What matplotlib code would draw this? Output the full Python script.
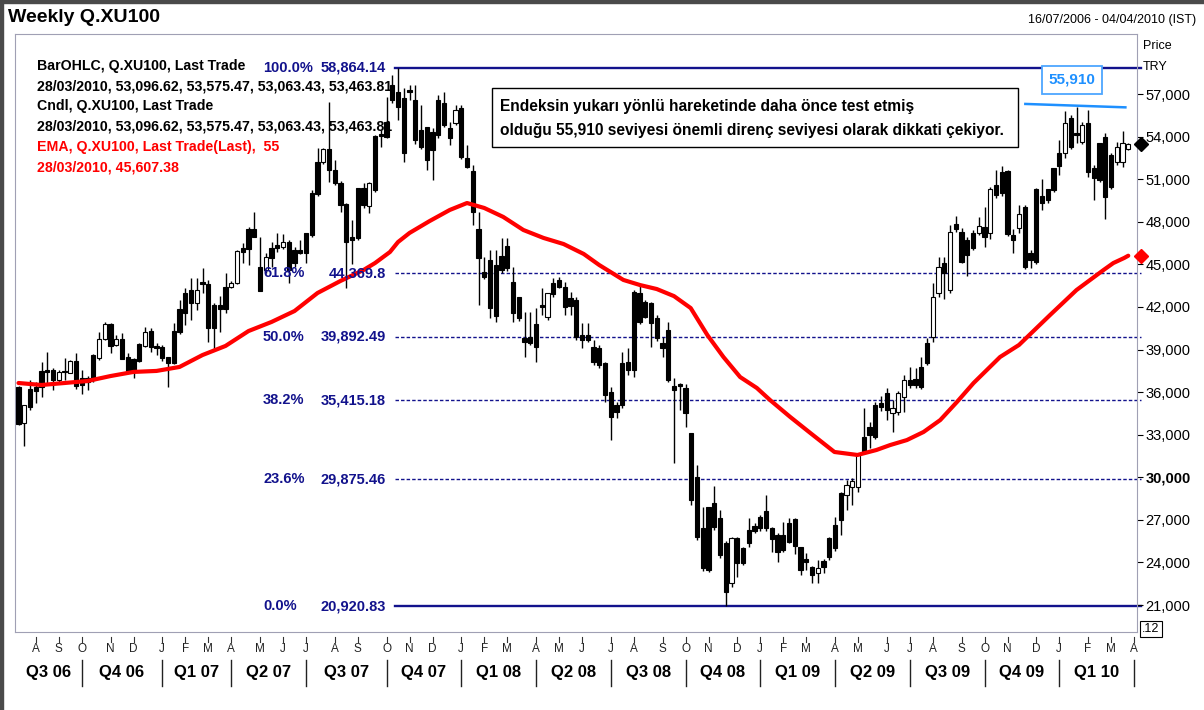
import matplotlib
matplotlib.use('Agg')
import matplotlib.pyplot as plt
import matplotlib.transforms as mtransforms
from matplotlib.patches import Rectangle
import pandas as pd

plt.rcParams['font.family'] = ['Liberation Sans', 'DejaVu Sans']

# weekly OHLC, one bar per week starting 16/07/2006
opens = [
    36335, 33800, 36200, 36335, 37490, 37560, 37560, 36850, 37510, 37320,
    38210, 36970, 36970, 38610, 38380, 39720, 40800, 39320, 39720, 38500,
    38310, 39390, 39270, 40330, 39250, 39200, 38500, 40330, 41850, 43000,
    43190, 42260, 43730, 43620, 42140, 42140, 43430, 43430, 43710, 46130,
    47470, 47470, 44840, 44600, 46130, 46360, 46250, 46600, 46010, 46010,
    47190, 50050, 52230, 52230, 53100, 51650, 50760, 49250, 46900, 50360,
    50360, 49110, 54040, 54180, 55050, 57630, 57160, 56700, 57280, 56580,
    54460, 54700, 54350, 56580, 56340, 54580, 54930, 55990, 52470, 51580,
    47490, 44490, 45310, 44960, 45610, 46320, 43780, 42720, 39840, 39910,
    40770, 42140, 41320, 43660, 43900, 43430, 42610, 42490, 40020, 40020,
    39200, 39090, 38030, 36030, 35090, 38030, 38140, 43080, 42960, 42370,
    42250, 41200, 39440, 40380, 36430, 36550, 36270, 33100, 30040, 26400,
    27930, 28170, 27110, 25350, 22530, 25700, 25000, 26290, 26570, 27230,
    27650, 26400, 25930, 25930, 26800, 27040, 25060, 24220, 23700, 23280,
    24130, 25700, 26640, 28870, 28750, 29340, 29340, 32860, 33520, 35090,
    35210, 35920, 34510, 34620, 35680, 36850, 36900, 37790, 39440, 39860,
    42960, 45070, 43190, 47840, 47300, 46720, 47230, 47230, 47610, 47230,
    50590, 51530, 51600, 47070, 47540, 49060, 45780, 50290, 49820, 50290,
    51760, 52870, 52820, 55290, 54280, 53640, 54930, 51760, 53530, 54000,
    52700, 52230, 52230, 53096.62]
highs = [
    36450, 35100, 36850, 36730, 38140, 38850, 37670, 37560, 38380, 38260,
    38730, 37560, 37130, 38700, 40260, 40960, 40850, 40020, 40140, 38780,
    38400, 39480, 40560, 40490, 39480, 39300, 38500, 40850, 42490, 43300,
    44020, 44020, 44720, 43900, 42250, 42770, 44370, 43800, 46010, 46480,
    47660, 48710, 46950, 45800, 46600, 47190, 47140, 46700, 46200, 46720,
    47190, 50240, 53170, 53170, 56460, 52350, 50900, 49300, 48130, 50400,
    50710, 50800, 54100, 54460, 56810, 58340, 58864.14, 57400, 57630, 57630,
    56230, 54700, 54580, 56930, 57160, 55050, 56230, 56230, 53410, 52000,
    48710, 45540, 46010, 46010, 46830, 46880, 44840, 42720, 41670, 41670,
    41900, 43310, 42960, 44020, 44130, 43780, 43080, 42720, 40850, 40850,
    39670, 39300, 38100, 36380, 35330, 38850, 39080, 43190, 43540, 42490,
    42370, 41400, 39910, 40960, 36970, 36620, 36570, 33100, 30870, 27880,
    27930, 29390, 27700, 25500, 25820, 25820, 25100, 27110, 26760, 27340,
    28750, 26520, 26050, 26870, 27110, 27110, 25100, 24640, 23750, 24170,
    24220, 25820, 27220, 28980, 29810, 29930, 31690, 34860, 33920, 35330,
    35730, 36270, 35450, 36100, 37210, 37790, 37680, 38500, 39790, 43660,
    45540, 45540, 47770, 48410, 47540, 46950, 47420, 48310, 49060, 50470,
    51650, 51930, 51650, 47470, 49180, 49180, 46010, 50360, 50990, 50290,
    51760, 53760, 55830, 55520, 56110, 55050, 55870, 52000, 53570, 54230,
    52820, 53640, 54420, 53575.47]
lows = [
    33700, 32230, 34740, 35210, 35680, 36620, 36150, 36620, 36850, 37320,
    36200, 35870, 36150, 36700, 38260, 39650, 38730, 39270, 38310, 37440,
    36970, 38100, 39200, 38850, 38610, 38210, 36340, 38000, 40100, 40730,
    41080, 41790, 42960, 39560, 38970, 40260, 41550, 43300, 43600, 45070,
    44960, 46900, 43100, 44400, 44840, 45900, 46100, 43660, 44800, 45700,
    45070, 46900, 49800, 52100, 50830, 50600, 48710, 43310, 45030, 46700,
    49000, 48590, 50100, 53290, 53900, 56400, 55170, 52190, 56580, 53500,
    53100, 51650, 50940, 53900, 54700, 53410, 54800, 52400, 51800, 47770,
    42140, 44000, 41200, 40960, 44370, 44500, 40920, 41010, 38500, 39300,
    38150, 41430, 41080, 42700, 43300, 41430, 41430, 39700, 39090, 39500,
    37900, 37680, 35330, 32630, 34150, 34900, 37210, 37090, 40800, 41200,
    39200, 39600, 38500, 36700, 30980, 34740, 33570, 28050, 25600, 23400,
    23300, 26300, 24300, 20920.83, 22300, 23000, 23800, 25110, 26100, 26200,
    26200, 24760, 24050, 24700, 25400, 24600, 23120, 23470, 22530, 22530,
    23230, 24200, 24800, 25930, 27690, 28050, 28990, 31700, 32040, 32700,
    34700, 34040, 33220, 34400, 34620, 36300, 36300, 36200, 37900, 39550,
    42700, 42540, 43000, 47300, 45070, 44180, 46000, 47100, 46250, 46760,
    49700, 49800, 47000, 45820, 47190, 44700, 44720, 45000, 48830, 49300,
    50100, 51300, 52470, 53100, 53530, 53500, 51130, 49530, 50800, 48170,
    50300, 52000, 51880, 53063.43]
closes = [
    33760, 35070, 34970, 36100, 36335, 37390, 36850, 37440, 37420, 38190,
    36430, 36500, 36740, 36850, 39720, 40800, 39270, 39740, 38350, 37490,
    37490, 38210, 40260, 39200, 39080, 38380, 38070, 38070, 40210, 41550,
    42300, 43190, 43620, 40490, 40490, 41830, 41830, 43710, 45970, 45890,
    46060, 46900, 43150, 45500, 45430, 46130, 46600, 44600, 45070, 45780,
    45780, 47070, 49960, 53100, 51650, 50760, 49180, 46600, 46720, 46830,
    49180, 50710, 50240, 54040, 54000, 56580, 56110, 52820, 57160, 53760,
    53290, 52350, 53060, 54110, 54820, 53880, 55870, 52590, 51880, 48710,
    45470, 44130, 41900, 41390, 44600, 44720, 41550, 41200, 39550, 39440,
    39200, 42020, 42960, 42890, 43430, 42020, 42090, 39910, 39670, 39670,
    38150, 37910, 35800, 34270, 34620, 35090, 37560, 37560, 40960, 41310,
    40840, 39790, 39080, 36850, 36150, 36430, 34510, 28400, 25820, 23590,
    23470, 26520, 24530, 21940, 25700, 23990, 23990, 25350, 26240, 26400,
    26400, 25630, 24760, 24880, 25460, 25160, 23470, 24050, 23120, 23590,
    23700, 24360, 24990, 26990, 29450, 29760, 31570, 31880, 32980, 32860,
    34930, 34740, 34860, 35920, 36850, 36500, 36500, 36380, 38030, 42680,
    44840, 44370, 47300, 47470, 45190, 45660, 46130, 47700, 46950, 50280,
    49890, 50000, 47140, 46720, 48550, 44840, 45310, 45190, 49350, 49530,
    50240, 51930, 54930, 53290, 54110, 54820, 51530, 51060, 50940, 49770,
    50470, 53290, 53570, 53463.81]

# EMA(55)
ema_week = [0, 4, 8, 12, 16, 20, 24, 28, 32, 36,
            40, 44, 48, 52, 56, 60, 62, 64.6, 66, 68,
            71.5, 75, 78, 81, 84.3, 87.8, 91.3, 94.8, 98.3, 101,
            105.2, 108.1, 111, 114, 116.9, 119.8, 122.6, 125.5, 128.4, 130.7,
            134.2, 137.7, 141.9, 145.9, 149.2, 151.6, 154.5, 157.4, 160.3, 163.2,
            166.1, 170.7, 174, 179.4, 184, 188.7, 190.4, 192.3, 193]
ema_vals = [36640, 36500, 36640, 36780, 37130, 37420, 37490, 37770, 38610, 39250,
            40300, 40940, 41710, 42980, 43830, 44600, 45090, 45870, 46570, 47210,
            48050, 48830, 49320, 48970, 48340, 47420, 46860, 46430, 45730, 44950,
            43900, 43540, 43260, 42760, 41920, 40020, 38470, 37060, 36290, 35440,
            34250, 33120, 31780, 31570, 31920, 32270, 32620, 33190, 34030, 35300,
            36640, 38470, 39320, 41430, 43190, 44600, 45090, 45450, 45607.38]

fib_pct = ['100.0%', '61.8%', '50.0%', '38.2%', '23.6%', '0.0%']
fib_vals = [58864.14, 44369.8, 39892.49, 35415.18, 29875.46, 20920.83]
fib_text = ['58,864.14', '44,369.8', '39,892.49', '35,415.18', '29,875.46', '20,920.83']
fib_start = 65.5

res_week = [175.1, 192.5]
res_price = [56300, 56060]

legend_lines = ['BarOHLC, Q.XU100, Last Trade',
                '28/03/2010, 53,096.62, 53,575.47, 53,063.43, 53,463.81',
                'Cndl, Q.XU100, Last Trade',
                '28/03/2010, 53,096.62, 53,575.47, 53,063.43, 53,463.81',
                'EMA, Q.XU100, Last Trade(Last),  55',
                '28/03/2010, 45,607.38']
legend_colors = ['black', 'black', 'black', 'black', 'red', 'red']

note = ['Endeksin yukarı yönlü hareketinde daha önce test etmiş',
        'olduğu 55,910 seviyesi önemli direnç seviyesi olarak dikkati çekiyor.']

price_ticks = list(range(21000, 57001, 3000))

NAVY = '#12128c'
W, H = 1204, 710


def fx(px):
    return px / W


def fy(py):
    return 1 - py / H


fig = plt.figure(figsize=(W / 100, H / 100), dpi=100)
ax = fig.add_axes([fx(15), fy(632), (1137 - 15) / W, (632 - 34) / H])
ax.set_xlim(-0.61, 194.52)
ax.set_ylim(19098, 61227)

weeks = list(range(len(closes)))

# fibonacci levels
for pct, v in zip(fib_pct, fib_vals):
    if pct in ('100.0%', '0.0%'):
        ax.plot([fib_start, 195.2], [v, v], color=NAVY, lw=1.7, zorder=1, clip_on=False)
    else:
        ax.plot([fib_start, 195.2], [v, v], color=NAVY, lw=1.0, ls=(0, (2.5, 1.5)),
                zorder=1, clip_on=False)

# candles
ax.vlines(weeks, lows, highs, color='black', lw=1.0, zorder=2)
bottoms = [min(o, c) for o, c in zip(opens, closes)]
heights = [max(abs(c - o), 70) for o, c in zip(opens, closes)]
fills = ['white' if c > o else 'black' for o, c in zip(opens, closes)]
ax.bar(weeks, heights, bottom=bottoms, width=0.72, color=fills, edgecolor='black',
       linewidth=0.8, zorder=3)

# EMA 55
ax.plot(ema_week, ema_vals, color='#ff0000', lw=3, zorder=4, solid_capstyle='round',
        solid_joinstyle='round')

# resistance line
ax.plot(res_week, res_price, color='#1e90ff', lw=1.8, zorder=4)

# last value markers on the price axis
ax.plot([195.3], [closes[-1]], marker='D', color='black', ms=7, clip_on=False, zorder=6)
ax.plot([195.3], [ema_vals[-1]], marker='D', color='red', ms=7, clip_on=False, zorder=6)

# fib labels
trans = mtransforms.blended_transform_factory(fig.transFigure, ax.transData)
for pct, v, t in zip(fib_pct, fib_vals, fib_text):
    ax.text(fx(263), v, pct, transform=trans, ha='left', va='center', color=NAVY,
            fontsize=10.5, fontweight='bold', zorder=5)
    ax.text(fx(386), v, t, transform=trans, ha='right', va='center', color=NAVY,
            fontsize=10.5, fontweight='bold', zorder=5)

# axes styling
for s in ax.spines.values():
    s.set_color('#a0a0b4')
    s.set_linewidth(0.8)
ax.set_xticks([])
ax.yaxis.tick_right()
ax.set_yticks(price_ticks)
ax.set_yticklabels([f'{v:,}' for v in price_ticks])
ax.tick_params(axis='y', length=4, width=0.8, pad=2, labelsize=10.5, colors='black')
for lab in ax.get_yticklabels():
    if lab.get_text() == '30,000':
        lab.set_fontweight('bold')

# month letters and quarters under the plot
dates = pd.date_range('2006-07-16', periods=len(closes) + 1, freq='W-SUN')
xt = ax.get_xaxis_transform()
q_bounds = [-0.61]
q_names = [f'Q{(dates[0].month - 1) // 3 + 1} {dates[0]:%y}']
for k in range(1, len(dates)):
    if dates[k].month != dates[k - 1].month:
        ax.plot([k, k], [-0.009, -0.017], transform=xt, clip_on=False, color='#333333', lw=0.8)
        ax.text(k, -0.028, f'{dates[k]:%b}'[0], transform=xt, ha='center', va='center',
                fontsize=8.5, color='#222222')
        if dates[k].month in (1, 4, 7, 10):
            q_bounds.append(k)
            q_names.append(f'Q{(dates[k].month - 1) // 3 + 1} {dates[k]:%y}')
            ax.plot([k, k], [-0.047, -0.090], transform=xt, clip_on=False, color='#222222', lw=1.0)
for j in range(len(q_bounds) - 1):
    ax.text((q_bounds[j] + q_bounds[j + 1]) / 2, -0.068, q_names[j], transform=xt,
            ha='center', va='center', fontsize=12, fontweight='bold')

# header texts
fig.text(fx(8), fy(18), 'Weekly Q.XU100', fontsize=14, fontweight='bold', va='center')
fig.text(fx(1196), fy(20), '16/07/2006 - 04/04/2010 (IST)', fontsize=9, ha='right', va='center')
fig.text(fx(1143), fy(46), 'Price', fontsize=9, va='center')
fig.text(fx(1143), fy(67), 'TRY', fontsize=9, va='center')
fig.text(fx(1151), fy(629), '.12', fontsize=9, ha='center', va='center',
         bbox=dict(boxstyle='square,pad=0.15', fc='white', ec='black', lw=0.8))

for n, (line, col) in enumerate(zip(legend_lines, legend_colors)):
    fig.text(fx(37), fy(66 + n * 20.2), line, color=col, fontsize=10.2, fontweight='bold',
             va='center', zorder=5)

# comment box
fig.add_artist(Rectangle((fx(492), fy(147)), (1018 - 492) / W, (147 - 88) / H,
                         transform=fig.transFigure, fc='white', ec='black', lw=1.0, zorder=5))
fig.text(fx(500), fy(106), note[0], fontsize=11.2, fontweight='bold', va='center', zorder=6)
fig.text(fx(500), fy(130), note[1], fontsize=11.2, fontweight='bold', va='center', zorder=6)

fig.text(fx(1072), fy(80), '55,910', fontsize=11, fontweight='bold', color='#1e90ff',
         ha='center', va='center', zorder=6,
         bbox=dict(boxstyle='square,pad=0.45', fc='white', ec='#4da6ff', lw=1.3))

# screenshot frame
fig.add_artist(Rectangle((0, 0), 3 / W, 1, transform=fig.transFigure, color='#4a4a4a', zorder=7))
fig.add_artist(Rectangle((0, 1 - 3 / H), 1, 3 / H, transform=fig.transFigure, color='#4a4a4a', zorder=7))

fig.savefig('out.png', dpi=100)
